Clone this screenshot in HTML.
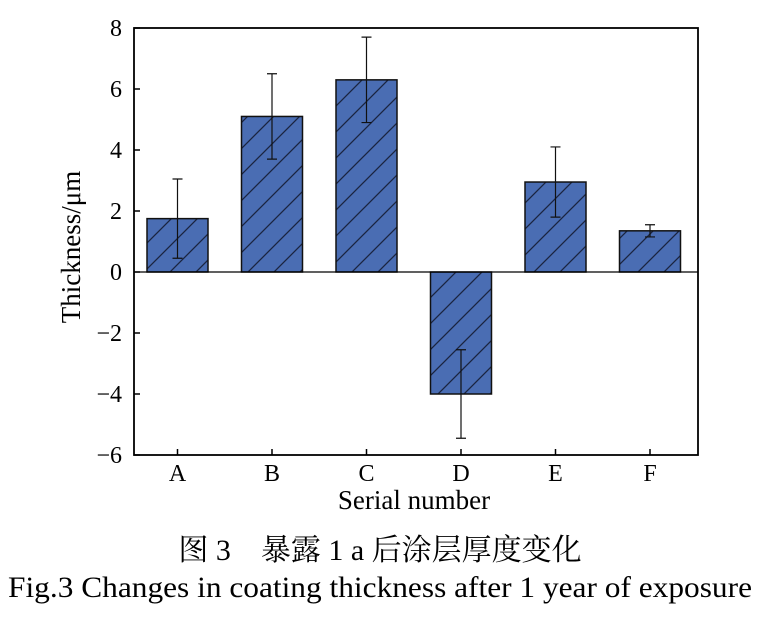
<!DOCTYPE html>
<html><head><meta charset="utf-8"><style>
body{margin:0;background:#fff;width:761px;height:623px;overflow:hidden}
svg text{font-family:"Liberation Serif","Noto Serif CJK SC",serif;fill:#000}
</style></head><body>
<svg id="chart" width="761" height="623">
<defs><pattern id="hatch" patternUnits="userSpaceOnUse" width="26" height="26">
<rect width="26" height="26" fill="#4a6db3"/>
<path d="M-2,28 L28,-2 M-15,15 L15,-15 M11,41 L41,11" stroke="#1a2440" stroke-width="1.3"/>
</pattern></defs>
<g id="plot"></g>
<text x="380" y="560" text-anchor="middle" font-size="30">图 3　暴露 1 a 后涂层厚度变化</text>
<text x="380" y="597" text-anchor="middle" font-size="30" textLength="744" lengthAdjust="spacingAndGlyphs">Fig.3 Changes in coating thickness after 1 year of exposure</text>
</svg>
<script>
const categories=["A","B","C","D","E","F"];
const values=[1.75,5.1,6.3,-4.0,2.95,1.35];
const errors=[1.3,1.4,1.4,1.45,1.15,0.2];
const yTicks=[-6,-4,-2,0,2,4,6,8];
const L=134,R=698,T=28,B=455,yMin=-6,yMax=8;
const ns="http://www.w3.org/2000/svg";
const g=document.getElementById('plot');
function y(v){return B-(v-yMin)/(yMax-yMin)*(B-T);}
function x(i){return 177.5+94.5*i;}
function el(t,a){const e=document.createElementNS(ns,t);for(const k in a)e.setAttribute(k,a[k]);g.appendChild(e);return e;}
const bw=61;
categories.forEach((c,i)=>{
 const cx=x(i),v=values[i];
 const r=el('rect',{x:cx-bw/2,y:Math.min(y(v),y(0)),width:bw,height:Math.abs(y(v)-y(0)),fill:'url(#hatch)',stroke:'#111','stroke-width':1.5});
 
 
 const e1=y(v+errors[i]),e2=y(v-errors[i]);
 const eb=el('path',{d:`M${cx},${e1}V${e2}M${cx-5},${e1}H${cx+5}M${cx-5},${e2}H${cx+5}`,stroke:'#111','stroke-width':1.2,fill:'none'});
 
 
 const tk=el('line',{x1:cx,x2:cx,y1:B,y2:B-6,stroke:'#000','stroke-width':1.5});
 
 
 const t=el('text',{x:cx,y:B+26,'text-anchor':'middle','font-size':24});
 t.textContent=c;
 
 
});
yTicks.forEach(v=>{
 const tk=el('line',{x1:L,x2:L+6,y1:y(v),y2:y(v),stroke:'#000','stroke-width':1.5});
 
 
 const t=el('text',{x:L-12,y:y(v)+8,'text-anchor':'end','font-size':24});
 t.textContent=v<0?'\u2212'+(-v):String(v);
 
 
});
const zl=el('line',{x1:L,x2:R,y1:y(0),y2:y(0),stroke:'#000','stroke-width':1.2});


const fr=el('rect',{x:L,y:T,width:R-L,height:B-T,fill:'none',stroke:'#000','stroke-width':1.8});


const xt=el('text',{x:414,y:509,'text-anchor':'middle','font-size':27});
xt.textContent='Serial number';


const yt=el('text',{x:0,y:0,'text-anchor':'middle','font-size':27,transform:`translate(80,247) rotate(-90)`});
yt.textContent='Thickness/\u03bcm';


</script>
</body></html>
